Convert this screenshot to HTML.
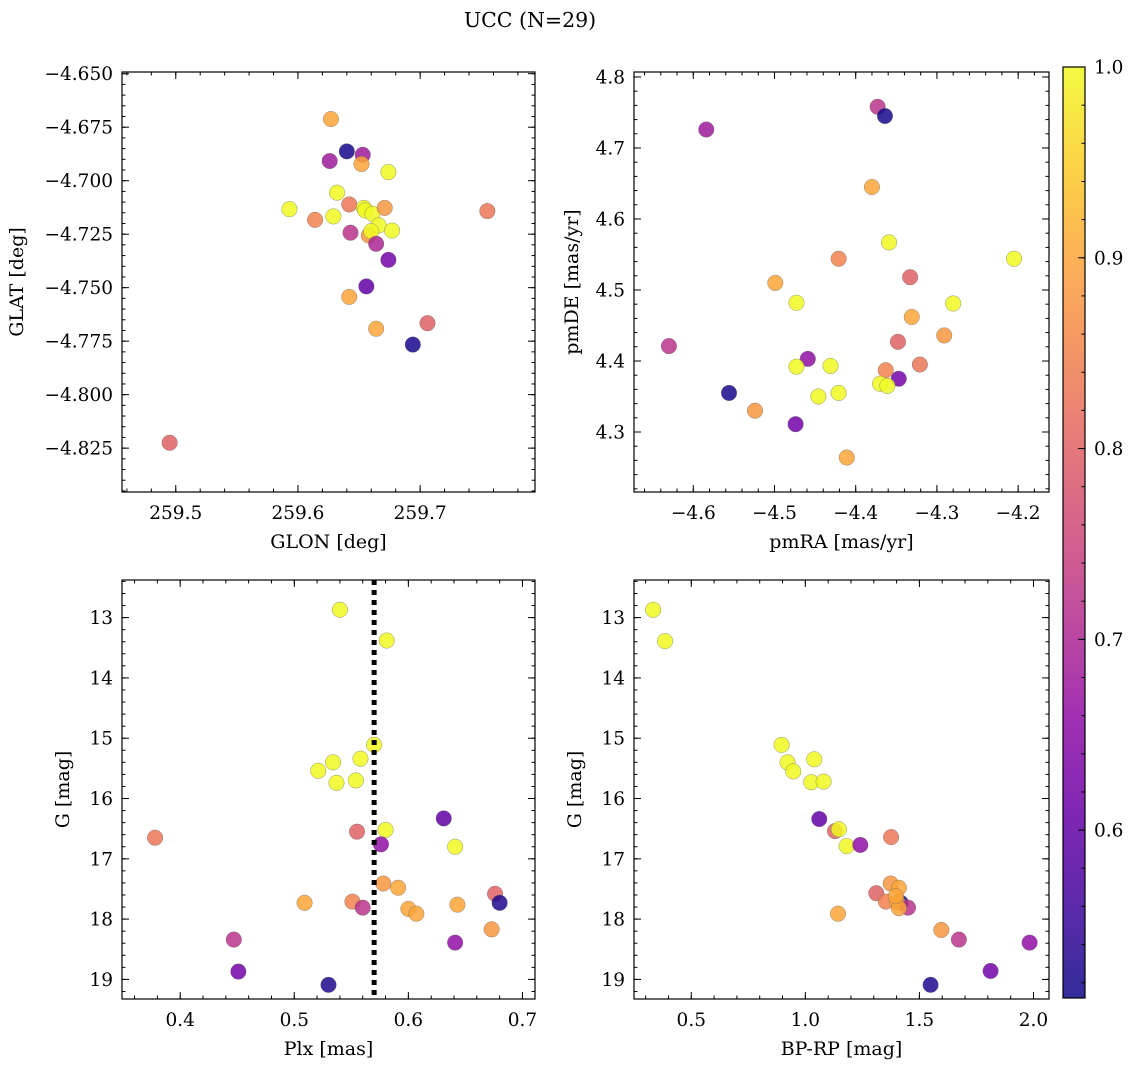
<!DOCTYPE html>
<html><head><meta charset="utf-8"><style>
html,body{margin:0;padding:0;background:#fff;}
svg{display:block;font-family:"DejaVu Serif","Liberation Serif",serif;}
</style></head><body>
<svg id="fig" width="1136" height="1067" viewBox="0 0 1136 1067" xmlns="http://www.w3.org/2000/svg">
<text x="530" y="27" font-size="20.5" text-anchor="middle">UCC (N=29)</text>
</svg>
<script>
// Panel 1: GLON vs GLAT
const glon = [259.627,259.640,259.653,259.626,259.652,259.674,259.632,259.593,259.642,259.654,259.655,259.661,259.671,259.755,259.614,259.629,259.666,259.677,259.658,259.660,259.643,259.664,259.674,259.656,259.642,259.664,259.706,259.694,259.495];
const glat = [-4.6712,-4.6863,-4.6879,-4.6908,-4.6922,-4.6960,-4.7056,-4.7133,-4.7111,-4.7127,-4.7139,-4.7155,-4.7127,-4.7142,-4.7183,-4.7167,-4.7209,-4.7233,-4.7256,-4.7236,-4.7243,-4.7295,-4.7370,-4.7494,-4.7543,-4.7692,-4.7666,-4.7766,-4.8225];
const prob1 = [.9,.52,.68,.68,.9,1,1,1,.83,1,1,1,.88,.83,.85,1,1,1,.88,1,.72,.7,.62,.6,.9,.9,.8,.52,.8];
// Panel 2: pmRA vs pmDE
const pmra = [-4.373,-4.364,-4.584,-4.380,-4.359,-4.421,-4.205,-4.333,-4.499,-4.473,-4.280,-4.331,-4.630,-4.348,-4.291,-4.459,-4.473,-4.431,-4.321,-4.363,-4.347,-4.370,-4.361,-4.556,-4.421,-4.446,-4.524,-4.474,-4.411];
const pmde = [4.758,4.745,4.726,4.645,4.567,4.544,4.544,4.518,4.510,4.482,4.481,4.462,4.421,4.427,4.436,4.403,4.392,4.393,4.395,4.387,4.375,4.368,4.365,4.355,4.355,4.350,4.330,4.311,4.264];
const prob2 = [.72,.52,.68,.9,1,.85,1,.8,.9,1,1,.9,.72,.8,.88,.66,1,1,.83,.85,.62,1,1,.52,1,1,.88,.62,.9];
// Panel 3: Plx vs G
const plx = [.540,.581,.570,.534,.558,.521,.537,.554,.631,.580,.555,.378,.576,.641,.578,.591,.676,.509,.551,.560,.600,.607,.643,.680,.673,.447,.641,.451,.530];
const gmag3 = [12.87,13.38,15.11,15.40,15.34,15.54,15.74,15.70,16.33,16.52,16.55,16.65,16.76,16.80,17.41,17.48,17.58,17.73,17.71,17.81,17.83,17.91,17.76,17.73,18.17,18.34,18.39,18.87,19.09];
const prob3 = [1,1,1,1,1,1,1,1,.6,1,.8,.83,.66,1,.88,.9,.8,.9,.85,.72,.9,.9,.9,.53,.88,.72,.66,.62,.53];
const plxMedian = [0.570];
// Panel 4: BP-RP vs G
const bprp = [.333,.385,.896,.922,1.039,.947,1.026,1.080,1.061,1.130,1.147,1.181,1.241,1.376,1.374,1.410,1.311,1.353,1.418,1.403,1.450,1.410,1.143,1.596,1.673,1.983,1.812,1.549,1.397];
const gmag4 = [12.87,13.39,15.11,15.40,15.35,15.55,15.73,15.72,16.34,16.54,16.51,16.79,16.77,16.64,17.41,17.48,17.57,17.71,17.73,17.72,17.81,17.82,17.91,18.18,18.34,18.39,18.86,19.09,17.62];
const prob4 = [1,1,1,1,1,1,1,1,.6,.8,1,1,.66,.83,.88,.9,.8,.85,.53,.9,.72,.9,.9,.88,.72,.66,.62,.53,.9];
// Colorbar
const cbTicks = [0.6,0.7,0.8,0.9,1.0];
const cbRange = [0.512,1.0];

const NS="http://www.w3.org/2000/svg";
const svg=document.getElementById('fig');
const TF=18.5, LF=19;
function mk(tag,attrs,parent){const e=document.createElementNS(NS,tag);for(const k in attrs)e.setAttribute(k,attrs[k]);(parent||svg).appendChild(e);return e;}
const stops=[[0,[13,8,135]],[.1,[65,4,157]],[.2,[106,0,168]],[.3,[143,13,164]],[.4,[177,42,144]],[.5,[204,71,120]],[.6,[225,100,98]],[.7,[242,132,75]],[.8,[252,166,54]],[.9,[252,206,37]],[1,[240,249,33]]];
function plasma(t){t=Math.max(0,Math.min(1,t));for(let i=1;i<stops.length;i++){if(t<=stops[i][0]){const a=stops[i-1],b=stops[i];const f=(t-a[0])/(b[0]-a[0]);const c=a[1].map((v,j)=>Math.round(v+(b[1][j]-v)*f));return `rgb(${c[0]},${c[1]},${c[2]})`;}}return 'rgb(240,249,33)';}
function cval(v){return plasma((v-cbRange[0])/(cbRange[1]-cbRange[0]));}
function fmt(v,d){const s=Math.abs(v).toFixed(d);return (v<-1e-9?'\u2212':'')+s;}
function tickVals(min,max,step){const out=[];for(let k=Math.ceil(min/step-1e-6);k<=Math.floor(max/step+1e-6);k++)out.push(k*step);return out;}

function panel(cfg){
  const g=mk('g',{});
  
  
  const [L,T,R,B]=cfg.box;
  const sx=v=>L+(v-cfg.xd[0])/(cfg.xd[1]-cfg.xd[0])*(R-L);
  const sy=cfg.invert? v=>T+(v-cfg.yd[0])/(cfg.yd[1]-cfg.yd[0])*(B-T) : v=>B-(v-cfg.yd[0])/(cfg.yd[1]-cfg.yd[0])*(B-T);
  for(let i=0;i<cfg.x.length;i++){
    const c=mk('circle',{cx:sx(cfg.x[i]),cy:sy(cfg.y[i]),r:7.8,fill:cval(cfg.c[i]),'fill-opacity':0.85,stroke:'#666','stroke-width':0.5,'stroke-opacity':0.7},g);
    
    
  }
  if(cfg.vline){
    const l=mk('line',{x1:sx(cfg.vline[0]),x2:sx(cfg.vline[0]),y1:T,y2:B,stroke:'#000','stroke-width':5,'stroke-dasharray':'5,5'},g);
    
    
  }
  const fr=mk('rect',{x:L,y:T,width:R-L,height:B-T,fill:'none',stroke:'#000','stroke-width':1.2},g);
  
  
  const tk=(x1,y1,x2,y2)=>mk('line',{x1,y1,x2,y2,stroke:'#000','stroke-width':1},g);
  for(const v of tickVals(cfg.xd[0],cfg.xd[1],cfg.xmin)){const x=sx(v);tk(x,B,x,B-3.5);tk(x,T,x,T+3.5);}
  for(const v of tickVals(cfg.yd[0],cfg.yd[1],cfg.ymin)){const y=sy(v);tk(L,y,L+3.5,y);tk(R,y,R-3.5,y);}
  for(const v of tickVals(cfg.xd[0],cfg.xd[1],cfg.xmaj)){const x=sx(v);tk(x,B,x,B-7);tk(x,T,x,T+7);
    const t=mk('text',{x:x,y:B+27,'font-size':TF,'text-anchor':'middle'},g);t.textContent=fmt(v,cfg.xdec);
    
    }
  for(const v of tickVals(cfg.yd[0],cfg.yd[1],cfg.ymaj)){const y=sy(v);tk(L,y,L+7,y);tk(R,y,R-7,y);
    const t=mk('text',{x:L-9,y:y+6.5,'font-size':TF,'text-anchor':'end'},g);t.textContent=fmt(v,cfg.ydec);
    
    }
  const xl=mk('text',{x:(L+R)/2,y:B+56,'font-size':LF,'text-anchor':'middle'},g);xl.textContent=cfg.xlabel;
  
  
  const yl=mk('text',{x:cfg.ylx,y:(T+B)/2,'font-size':LF,'text-anchor':'middle',transform:`rotate(-90 ${cfg.ylx} ${(T+B)/2})`},g);yl.textContent=cfg.ylabel;
  
  
}
panel({name:'glon-glat-panel',box:[122,72,535,492],xd:[259.456,259.794],yd:[-4.8455,-4.6492],x:glon,y:glat,c:prob1,xmaj:.1,xmin:.02,xdec:1,ymaj:.025,ymin:.005,ydec:3,xlabel:'GLON [deg]',ylabel:'GLAT [deg]',ylx:23});
panel({name:'pm-panel',box:[634,72,1049,492],xd:[-4.673,-4.162],yd:[4.2155,4.807],x:pmra,y:pmde,c:prob2,xmaj:.1,xmin:.02,xdec:1,ymaj:.1,ymin:.02,ydec:1,xlabel:'pmRA [mas/yr]',ylabel:'pmDE [mas/yr]',ylx:578});
panel({name:'plx-g-panel',box:[122,580,535,999],xd:[.349,.711],yd:[12.376,19.325],invert:true,x:plx,y:gmag3,c:prob3,vline:plxMedian,xmaj:.1,xmin:.02,xdec:1,ymaj:1,ymin:.2,ydec:0,xlabel:'Plx [mas]',ylabel:'G [mag]',ylx:69});
panel({name:'cmd-panel',box:[634,580,1049,999],xd:[.249,2.068],yd:[12.376,19.325],invert:true,x:bprp,y:gmag4,c:prob4,xmaj:.5,xmin:.1,xdec:1,ymaj:1,ymin:.2,ydec:0,xlabel:'BP-RP [mag]',ylabel:'G [mag]',ylx:581});

(function(){
  const L=1063,R=1085,T=67,B=998;
  const defs=mk('defs',{});
  const lg=mk('linearGradient',{id:'cbg',x1:0,y1:1,x2:0,y2:0},defs);
  for(let i=0;i<=20;i++){mk('stop',{offset:i/20,'stop-color':plasma(i/20)},lg);}
  const g=mk('g',{});
  
  
  mk('rect',{x:L,y:T,width:R-L,height:B-T,fill:'url(#cbg)','fill-opacity':0.85},g);
  mk('rect',{x:L,y:T,width:R-L,height:B-T,fill:'none',stroke:'#000','stroke-width':1.2},g);
  const sy=v=>B-(v-cbRange[0])/(cbRange[1]-cbRange[0])*(B-T);
  for(const v of tickVals(cbRange[0],cbRange[1],0.02)){const y=sy(v);mk('line',{x1:R,x2:R-3.5,y1:y,y2:y,stroke:'#000','stroke-width':1},g);}
  for(const v of cbTicks){const y=sy(v);mk('line',{x1:R,x2:R-7,y1:y,y2:y,stroke:'#000','stroke-width':1},g);
    const t=mk('text',{x:R+9,y:y+6.5,'font-size':TF},g);t.textContent=v.toFixed(1);
    
    }
})();
</script>
</body></html>
